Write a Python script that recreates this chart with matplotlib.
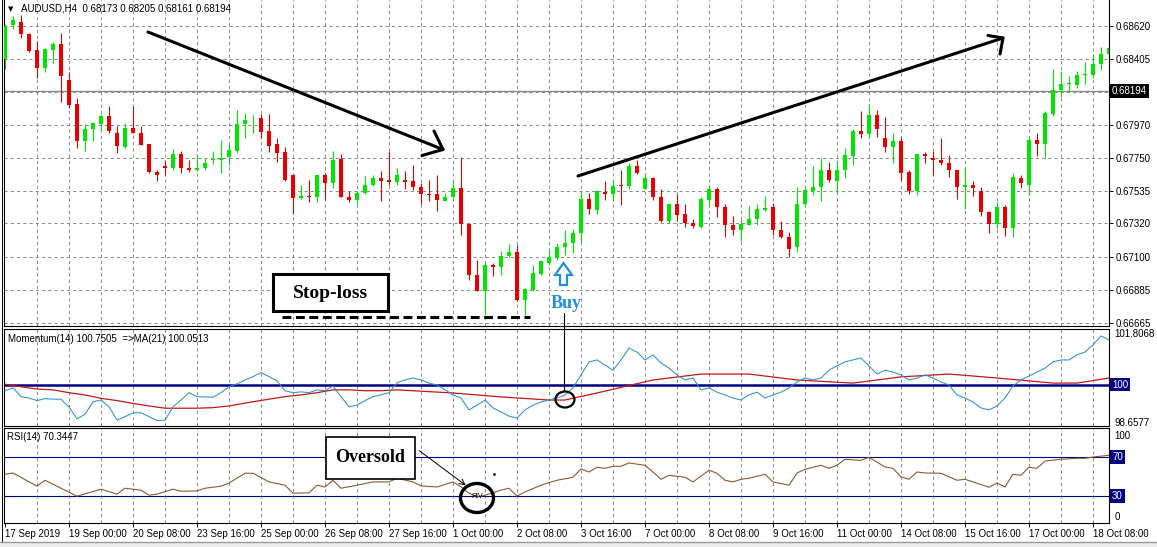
import numpy as np
import matplotlib.pyplot as plt
from matplotlib.patches import Rectangle, Ellipse, Polygon

# ---- data (AUDUSD H4) ----
opens = [0.68400, 0.68624, 0.68649, 0.68565, 0.68460, 0.68345, 0.68462, 0.68499, 0.68266, 0.68104,
         0.67862, 0.67943, 0.67972, 0.68025, 0.67917, 0.67825, 0.67950, 0.67917, 0.67840, 0.67660,
         0.67695, 0.67682, 0.67774, 0.67686, 0.67671, 0.67682, 0.67735, 0.67739, 0.67757, 0.67796,
         0.67972, 0.67998, 0.68016, 0.67928, 0.67840, 0.67790, 0.67642, 0.67489, 0.67504, 0.67493,
         0.67636, 0.67587, 0.67746, 0.67497, 0.67475, 0.67522, 0.67572, 0.67616, 0.67605, 0.67594,
         0.67605, 0.67598, 0.67563, 0.67517, 0.67511, 0.67471, 0.67497, 0.67552, 0.67317, 0.66983,
         0.66878, 0.67045, 0.67034, 0.67104, 0.67133, 0.66819, 0.66884, 0.66988, 0.67058, 0.67093,
         0.67166, 0.67190, 0.67258, 0.67484, 0.67407, 0.67530, 0.67515, 0.67576, 0.67566, 0.67697,
         0.67548, 0.67620, 0.67497, 0.67335, 0.67445, 0.67379, 0.67324, 0.67295, 0.67475, 0.67550,
         0.67429, 0.67313, 0.67275, 0.67313, 0.67348, 0.67410, 0.67427, 0.67280, 0.67229, 0.67163,
         0.67449, 0.67533, 0.67559, 0.67675, 0.67598, 0.67671, 0.67763, 0.67926, 0.67910, 0.68031,
         0.67880, 0.67823, 0.67860, 0.67656, 0.67533, 0.67774, 0.67752, 0.67741, 0.67719, 0.67675,
         0.67561, 0.67576, 0.67533, 0.67396, 0.67317, 0.67431, 0.67291, 0.67620, 0.67572, 0.67867,
         0.67845, 0.68042, 0.68196, 0.68240, 0.68231, 0.68297, 0.68297, 0.68367, 0.68438]
highs = [0.68631, 0.68686, 0.68690, 0.68572, 0.68521, 0.68477, 0.68517, 0.68576, 0.68319, 0.68148,
         0.67972, 0.67983, 0.68042, 0.68091, 0.67961, 0.67983, 0.68091, 0.67961, 0.67840, 0.67675,
         0.67735, 0.67812, 0.67796, 0.67735, 0.67774, 0.67752, 0.67796, 0.67867, 0.67851, 0.68064,
         0.68049, 0.68033, 0.68042, 0.68038, 0.67880, 0.67825, 0.67642, 0.67576, 0.67609, 0.67642,
         0.67653, 0.67796, 0.67774, 0.67533, 0.67533, 0.67631, 0.67638, 0.67664, 0.67796, 0.67682,
         0.67664, 0.67708, 0.67587, 0.67603, 0.67642, 0.67522, 0.67609, 0.67757, 0.67317, 0.67082,
         0.67060, 0.67060, 0.67137, 0.67185, 0.67177, 0.66895, 0.67045, 0.67082, 0.67148, 0.67192,
         0.67280, 0.67286, 0.67533, 0.67522, 0.67539, 0.67598, 0.67609, 0.67669, 0.67719, 0.67741,
         0.67653, 0.67625, 0.67550, 0.67456, 0.67511, 0.67445, 0.67352, 0.67493, 0.67576, 0.67559,
         0.67449, 0.67370, 0.67346, 0.67438, 0.67449, 0.67500, 0.67456, 0.67339, 0.67265, 0.67561,
         0.67559, 0.67697, 0.67748, 0.67724, 0.67730, 0.67818, 0.67939, 0.68060, 0.68104, 0.68064,
         0.68020, 0.67913, 0.67888, 0.67669, 0.67779, 0.67790, 0.67796, 0.67884, 0.67770, 0.67675,
         0.67693, 0.67598, 0.67559, 0.67405, 0.67462, 0.67440, 0.67653, 0.67642, 0.67895, 0.67917,
         0.68060, 0.68335, 0.68323, 0.68291, 0.68323, 0.68385, 0.68429, 0.68484, 0.68532]
lows = [0.68335, 0.68598, 0.68543, 0.68451, 0.68280, 0.68319, 0.68378, 0.68121, 0.68082, 0.67818,
        0.67796, 0.67862, 0.67928, 0.67917, 0.67785, 0.67818, 0.67913, 0.67834, 0.67651, 0.67598,
        0.67638, 0.67675, 0.67651, 0.67660, 0.67664, 0.67669, 0.67713, 0.67651, 0.67704, 0.67783,
        0.67884, 0.67917, 0.67880, 0.67792, 0.67726, 0.67598, 0.67385, 0.67478, 0.67462, 0.67462,
        0.67478, 0.67555, 0.67493, 0.67462, 0.67440, 0.67511, 0.67566, 0.67471, 0.67576, 0.67576,
        0.67550, 0.67539, 0.67449, 0.67467, 0.67405, 0.67467, 0.67489, 0.67243, 0.66946, 0.66873,
        0.66720, 0.66972, 0.66979, 0.67098, 0.66808, 0.66720, 0.66873, 0.66983, 0.67045, 0.67082,
        0.67115, 0.67126, 0.67196, 0.67385, 0.67385, 0.67473, 0.67484, 0.67440, 0.67550, 0.67647,
        0.67544, 0.67475, 0.67330, 0.67324, 0.67339, 0.67295, 0.67289, 0.67291, 0.67434, 0.67363,
        0.67229, 0.67243, 0.67207, 0.67308, 0.67308, 0.67401, 0.67247, 0.67225, 0.67098, 0.67133,
        0.67440, 0.67506, 0.67471, 0.67592, 0.67522, 0.67620, 0.67708, 0.67884, 0.67880, 0.67888,
        0.67792, 0.67719, 0.67605, 0.67511, 0.67506, 0.67719, 0.67642, 0.67704, 0.67625, 0.67482,
        0.67416, 0.67500, 0.67370, 0.67258, 0.67291, 0.67236, 0.67229, 0.67555, 0.67506, 0.67763,
        0.67752, 0.68027, 0.68152, 0.68187, 0.68214, 0.68236, 0.68275, 0.68328, 0.68385]
closes = [0.68620, 0.68657, 0.68565, 0.68455, 0.68345, 0.68466, 0.68499, 0.68291, 0.68099, 0.67862,
          0.67943, 0.67979, 0.68025, 0.67928, 0.67829, 0.67950, 0.67917, 0.67836, 0.67658, 0.67638,
          0.67684, 0.67774, 0.67682, 0.67671, 0.67686, 0.67721, 0.67743, 0.67752, 0.67801, 0.67972,
          0.67998, 0.68003, 0.67924, 0.67829, 0.67785, 0.67609, 0.67489, 0.67500, 0.67493, 0.67636,
          0.67587, 0.67741, 0.67493, 0.67475, 0.67522, 0.67576, 0.67620, 0.67601, 0.67596, 0.67642,
          0.67594, 0.67559, 0.67515, 0.67508, 0.67475, 0.67497, 0.67552, 0.67317, 0.66979, 0.66878,
          0.67045, 0.67034, 0.67109, 0.67133, 0.66819, 0.66891, 0.66994, 0.67076, 0.67098, 0.67166,
          0.67194, 0.67258, 0.67484, 0.67412, 0.67533, 0.67511, 0.67568, 0.67566, 0.67697, 0.67653,
          0.67620, 0.67493, 0.67335, 0.67445, 0.67374, 0.67324, 0.67300, 0.67478, 0.67550, 0.67427,
          0.67308, 0.67275, 0.67317, 0.67352, 0.67418, 0.67425, 0.67275, 0.67229, 0.67155, 0.67449,
          0.67537, 0.67563, 0.67675, 0.67609, 0.67675, 0.67768, 0.67928, 0.67910, 0.68031, 0.67941,
          0.67825, 0.67860, 0.67653, 0.67533, 0.67774, 0.67763, 0.67739, 0.67717, 0.67673, 0.67559,
          0.67576, 0.67555, 0.67394, 0.67317, 0.67429, 0.67291, 0.67623, 0.67587, 0.67867, 0.67845,
          0.68049, 0.68196, 0.68240, 0.68247, 0.68297, 0.68301, 0.68372, 0.68438, 0.68477]

bid = 0.68194
price_ticks = [0.66665, 0.66885, 0.67100, 0.67320, 0.67535, 0.67750, 0.67970, 0.68185, 0.68405, 0.68620]
price_labels = ['0.66665', '0.66885', '0.67100', '0.67320', '0.67535', '0.67750', '0.67970', '', '0.68405', '0.68620']

date_labels = ['17 Sep 2019', '19 Sep 00:00', '20 Sep 08:00', '23 Sep 16:00', '25 Sep 00:00',
               '26 Sep 08:00', '27 Sep 16:00', '1 Oct 00:00', '2 Oct 08:00', '3 Oct 16:00',
               '7 Oct 00:00', '8 Oct 08:00', '9 Oct 16:00', '11 Oct 00:00', '14 Oct 08:00',
               '15 Oct 16:00', '17 Oct 00:00', '18 Oct 08:00']

# Momentum(14) vertices (bar index, value)
mom_idx = list(range(139))
mom_val = [99.78, 99.88, 99.57, 99.52, 99.43, 99.50, 99.48, 99.48, 99.20, 98.78,
           98.95, 99.39, 99.45, 99.21, 98.74, 98.86, 98.99, 99.00, 98.86, 98.72,
           98.74, 99.21, 99.45, 99.71, 99.57, 99.56, 99.55, 99.71, 99.92, 100.02,
           100.16, 100.28, 100.42, 100.28, 100.13, 99.78, 99.71, 99.74, 99.71, 99.81,
           99.78, 99.95, 99.57, 99.21, 99.27, 99.43, 99.57, 99.63, 99.71, 100.06,
           100.16, 100.23, 100.16, 100.05, 99.98, 99.81, 99.63, 99.52, 99.10, 99.27,
           99.45, 99.17, 99.03, 98.88, 98.81, 99.10, 99.27, 99.38, 99.45, 99.52,
           99.63, 99.88, 100.34, 100.80, 100.87, 100.69, 100.51, 100.87, 101.29, 101.15,
           100.87, 101.05, 100.76, 100.58, 100.34, 100.16, 100.23, 99.81, 99.88, 99.73,
           99.63, 99.52, 99.45, 99.63, 99.73, 99.52, 99.63, 99.73, 99.88, 100.09,
           100.23, 100.16, 100.23, 100.51, 100.66, 100.80, 100.87, 100.94, 100.66, 100.37,
           100.51, 100.44, 100.34, 100.16, 100.23, 100.34, 100.23, 100.09, 99.98, 99.63,
           99.52, 99.38, 99.17, 99.10, 99.24, 99.52, 99.95, 100.16, 100.30, 100.44,
           100.58, 100.80, 100.87, 100.87, 101.05, 101.15, 101.40, 101.72, 101.58]

# MA(21) of momentum, vertices
ma_idx = [0, 2, 4, 6, 8, 10, 12, 14, 16, 18, 20, 22, 24, 26, 28, 31, 33, 35, 37, 39, 41, 43, 45, 47, 49,
          56, 62, 68, 70, 74, 81, 87, 93, 99, 106, 112, 118, 124, 131, 134, 138]
ma_val = [100.01, 99.92, 99.84, 99.81, 99.71, 99.63, 99.51, 99.43, 99.33, 99.24, 99.16, 99.16, 99.16,
          99.18, 99.24, 99.39, 99.48, 99.57, 99.63, 99.71, 99.81, 99.81, 99.78, 99.78, 99.81,
          99.70, 99.56, 99.45, 99.45, 99.70, 100.16, 100.37, 100.37, 100.16, 100.05, 100.27, 100.37,
          100.23, 100.05, 100.05, 100.23]

# RSI(14) vertices
rsi_idx = [0, 1, 4, 5, 9, 12, 14, 15, 17, 18, 19, 21, 22, 24, 25, 27, 28, 30, 31, 33, 35, 36, 38, 39,
           40, 41, 42, 44, 46, 48, 49, 51, 52, 54, 56, 57, 58, 59, 60, 62, 63, 64, 65, 67, 69, 71,
           72, 73, 74, 75, 76, 77, 78, 80, 81, 82, 83, 85, 86, 88, 89, 90, 91, 92, 93, 95, 96, 98,
           99, 100, 102, 103, 104, 105, 107, 108, 110, 111, 112, 113, 114, 115, 117, 119, 120, 121,
           123, 124, 125, 126, 127, 128, 129, 130, 132, 134, 135, 136, 138]
rsi_val = [52.6, 53.9, 40.3, 46.4, 30.0, 37.2, 32.1, 38.2, 36.2, 31.0, 32.1, 37.2, 35.1, 35.4, 38.2,
           40.3, 43.6, 53.6, 53.6, 44.7, 41.3, 33.1, 33.4, 41.3, 39.5, 46.4, 38.2, 41.3, 44.7, 44.7,
           48.5, 44.7, 40.6, 39.5, 44.7, 39.5, 33.1, 29.3, 31.0, 36.2, 38.2, 30.0, 34.4, 41.3, 46.4,
           49.5, 58.0, 54.9, 59.8, 58.7, 60.8, 60.8, 64.2, 61.8, 54.9, 47.4, 51.5, 49.5, 44.7, 56.7,
           53.6, 46.4, 44.7, 47.4, 48.5, 52.6, 44.7, 41.3, 53.9, 57.7, 61.8, 58.7, 61.8, 68.0, 66.9,
           70.0, 60.1, 58.7, 49.8, 47.4, 54.9, 53.9, 53.6, 46.4, 47.4, 44.7, 39.2, 43.6, 39.5, 52.6,
           51.5, 59.8, 58.7, 66.2, 68.0, 69.0, 69.0, 70.3, 72.1]

# ---- layout helpers (pixel boxes of the 1157x547 screenshot) ----
W, H = 1157, 547
def box(x0, y0, x1, y1):
    return [x0 / W, 1 - y1 / H, (x1 - x0) / W, (y1 - y0) / H]

plt.rcParams['font.family'] = ['Liberation Sans', 'DejaVu Sans']
fig = plt.figure(figsize=(W / 100, H / 100), dpi=100)
fig.patch.set_facecolor('white')

XL = (-0.19, 138.0)
grid_kw = dict(color='#8c8c8c', lw=0.75, ls=(0, (3, 3)), zorder=0)

ax_p = fig.add_axes(box(3.5, 0, 1109, 326))
ax_m = fig.add_axes(box(3.5, 329, 1109, 426))
ax_r = fig.add_axes(box(3.5, 428, 1109, 523))

for ax in (ax_p, ax_m, ax_r):
    ax.set_xlim(*XL)
    for s in ax.spines.values():
        s.set_linewidth(0.8)
        s.set_color('black')
    for g in range(4, 139, 4):
        ax.axvline(g, **grid_kw)
    ax.yaxis.tick_right()
    ax.set_xticks([])
ax_p.spines['top'].set_visible(False)

# ---- price panel ----
o = np.array(opens); h = np.array(highs); l = np.array(lows); c = np.array(closes)
x = np.arange(len(o))
cols = np.where(c >= o, '#00e600', '#e60000')
ax_p.set_ylim(0.66645, 0.68791)
for p in price_ticks:
    ax_p.axhline(p, **grid_kw)
ax_p.axhline(bid, color='#8a8a8a', lw=1.0, zorder=1)
ax_p.vlines(x, l, h, colors=cols, lw=0.8, zorder=2)
ax_p.bar(x, np.maximum(np.abs(c - o), 0.00006), 0.62, bottom=np.minimum(o, c),
         color=cols, linewidth=0, zorder=3)
ax_p.set_yticks(price_ticks)
ax_p.set_yticklabels(price_labels)
ax_p.tick_params(axis='y', length=3, width=0.7, labelsize=7, pad=1.5)
ax_p.text((1112 - 3.5) / 1105.5, bid, '0.68194', transform=ax_p.get_yaxis_transform(),
          ha='left', va='center', fontsize=7, color='white', clip_on=False,
          bbox=dict(boxstyle='square,pad=0.2', fc='black', ec='none'))
ax_p.text(0.004, 0.973, '\u25bc', transform=ax_p.transAxes, fontsize=5, va='center',
          family=['DejaVu Sans'])
ax_p.text(0.0155, 0.975, 'AUDUSD,H4  0.68173 0.68205 0.68161 0.68194', transform=ax_p.transAxes,
          fontsize=7, va='center')

# ---- momentum panel ----
ax_m.set_ylim(98.530, 101.966)
ax_m.axhline(100, color='#000080', lw=1.8, zorder=1)
ax_m.plot(mom_idx, mom_val, color='#2b8fe0', lw=0.75, zorder=3)
ax_m.plot(ma_idx, ma_val, color='#c01818', lw=0.9, zorder=2)
ax_m.set_yticks([98.6577, 101.8068])
ax_m.set_yticklabels(['98.6577', '101.8068'])
ax_m.tick_params(axis='y', length=0, labelsize=7, pad=4)
ax_m.text((1112 - 3.5) / 1105.5, 100, '100', transform=ax_m.get_yaxis_transform(),
          ha='left', va='center', fontsize=7, color='white', clip_on=False,
          bbox=dict(boxstyle='square,pad=0.2', fc='#000080', ec='none'))
ax_m.text(0.0045, 0.9, 'Momentum(14) 100.7505  =>MA(21) 100.0513', transform=ax_m.transAxes,
          fontsize=7, va='center')

# ---- RSI panel ----
ax_r.set_ylim(2.4, 100.2)
ax_r.axhline(70, color='#000080', lw=0.8, zorder=1)
ax_r.axhline(30, color='#000080', lw=0.8, zorder=1)
ax_r.plot(rsi_idx, rsi_val, color='#8c5a32', lw=0.8, zorder=3)
ax_r.set_yticks([])
tr = ax_r.get_yaxis_transform()
xr = (1112 - 3.5) / 1105.5
for v in (70, 30):
    ax_r.text(xr, v, str(v), transform=tr, ha='left', va='center', fontsize=7, color='white',
              clip_on=False, bbox=dict(boxstyle='square,pad=0.2', fc='#000080', ec='none'))
ax_r.text(xr + 0.002, 92, '100', transform=tr, ha='left', va='center', fontsize=7, clip_on=False)
ax_r.text(xr + 0.002, 9, '0', transform=tr, ha='left', va='center', fontsize=7, clip_on=False)
ax_r.text(0.0035, 0.9, 'RSI(14) 70.3447', transform=ax_r.transAxes, fontsize=7, va='center')
ax_r.set_xticks(range(0, 139, 8))
ax_r.set_xticklabels(date_labels, ha='left')
ax_r.tick_params(axis='x', length=3, width=0.7, labelsize=7, pad=1.5)

# ---- hand-drawn annotations, in screenshot pixels ----
ov = fig.add_axes([0, 0, 1, 1])
ov.set_xlim(0, W)
ov.set_ylim(H, 0)
ov.axis('off')
ov.patch.set_alpha(0)

k = dict(color='black', solid_capstyle='round', zorder=5)
ov.plot([148, 443], [32, 149.5], lw=2.2, **k)
ov.plot([434, 443, 422], [131, 149.5, 155.5], lw=2.2, **k)
ov.plot([578, 1003], [176, 38], lw=2.2, **k)
ov.plot([988, 1003, 1000], [35.5, 38, 54], lw=2.2, **k)

ov.add_patch(Rectangle((273, 274), 115, 37, fc='white', ec='black', lw=2.2, zorder=6))
ov.text(330, 293, 'Stop-loss', ha='center', va='center', fontsize=14, fontweight='bold',
        family='Liberation Serif', zorder=7)
ov.plot([282, 530], [316.5, 316.5], color='black', lw=2.2, ls=(0, (2.9, 1.5)), zorder=6)

blue = '#1e90dc'
ov.add_patch(Polygon([(563.5, 263), (572, 275), (567, 275), (567, 285), (560, 285), (560, 275),
                      (555, 275)], closed=True, fc='white', ec=blue, lw=1.6, zorder=6))
ov.text(566, 304, 'Buy', ha='center', va='center', fontsize=13, fontweight='bold',
        family='Liberation Serif', color=blue, zorder=7)
ov.plot([564, 564], [313, 391], color='black', lw=0.8, zorder=6)
ov.add_patch(Ellipse((565, 399.5), 19, 16, fc='none', ec='black', lw=1.6, zorder=6))

ov.add_patch(Rectangle((326, 437), 89, 42, fc='white', ec='black', lw=1.2, zorder=6))
ov.text(370, 458, 'Oversold', ha='center', va='center', fontsize=13, fontweight='bold',
        family='Liberation Serif', zorder=7)
ov.annotate('', xy=(468, 487), xytext=(417, 449),
            arrowprops=dict(arrowstyle='->', lw=0.7, color='black'), zorder=6)
ov.add_patch(Ellipse((477, 498), 33, 29, fc='none', ec='black', lw=2.4, zorder=6))
ov.text(477, 497, '\u042fIV', ha='center', va='center', fontsize=5, zorder=7)
ov.plot([494], [474], marker='.', ms=2, color='black', zorder=6)

ov.plot([1.5, 1.5], [0, 541], color='black', lw=0.7)
ov.plot([0, W], [541.5, 541.5], color='#9a9a9a', lw=1.0)
ov.add_patch(Rectangle((0, 542), W, 5, fc='#ececec', ec='none'))

fig.savefig('out.png', dpi=100)
